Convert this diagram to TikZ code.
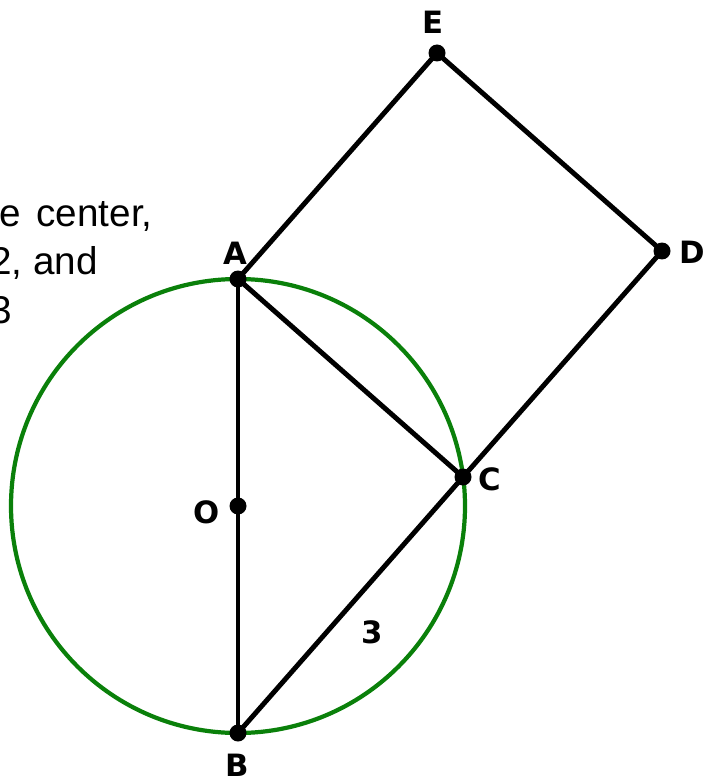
\documentclass[tikz,border=0pt]{standalone}
\usepackage{fontspec}
\setmainfont{DejaVu Sans}
\newfontfamily\prosefont{Liberation Sans}
\definecolor{circgreen}{RGB}{10,128,10}
\begin{document}
\begin{tikzpicture}[x=0.02cm,y=-0.02cm,
  seg/.style={line width=2.8pt,line cap=round,line join=round},
  ptdot/.style={circle,fill=black,inner sep=0pt,minimum size=0.34cm},
  lbl/.style={font=\fontsize{17.5}{20}\selectfont\bfseries,inner sep=0pt},
  prose/.style={font=\prosefont\fontsize{22}{26}\selectfont,inner sep=0pt,anchor=base east}]
\useasboundingbox (0,0) rectangle (705,780);
\clip (0,0) rectangle (705,780);
% points
\coordinate (A) at (238,279);
\coordinate (B) at (238,733);
\coordinate (O) at (238,506);
\coordinate (C) at (463,477);
\coordinate (D) at (662,251);
\coordinate (E) at (437,53);
% circle
\draw[circgreen,line width=2.4pt] (O) circle (227);
% segments
\draw[seg] (A) -- (B);
\draw[seg] (B) -- (C);
\draw[seg] (A) -- (C);
\draw[seg] (A) -- (E) -- (D) -- (C);
% dots
\foreach \p in {A,B,O,C,D,E} \node[ptdot] (d\p) at (\p) {};
% labels
\node[lbl] (lA) at (235,253) {A};
\node[lbl] (lB) at (237,765) {B};
\node[lbl] (lO) at (207,512) {O};
\node[lbl] (lC) at (490,479) {C};
\node[lbl] (lD) at (692,252) {D};
\node[lbl] (lE) at (433,22) {E};
\node[lbl] (l3) at (372,632) {3};
% cropped prose
\node[prose] (t1) at (153,227) {is the\hspace{2.5pt} center,};
\node[prose] (t2) at (98,275) {AB = 2, and};
\node[prose] (t3) at (12,323) {BC = 3};
\end{tikzpicture}
\end{document}
